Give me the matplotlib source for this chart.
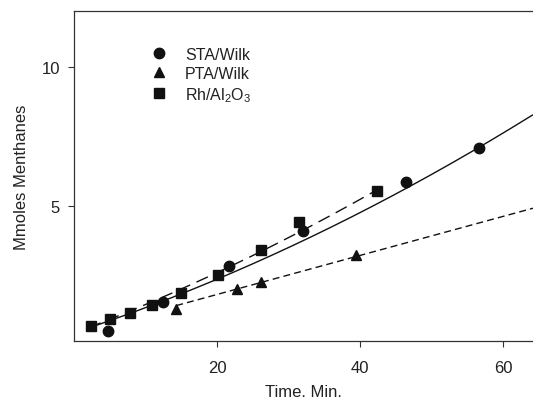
import numpy as np
import matplotlib
matplotlib.use("Agg")
import matplotlib.pyplot as plt
from matplotlib.lines import Line2D

plt.rcParams['font.family'] = ['Liberation Sans', 'DejaVu Sans']
plt.rcParams['mathtext.fontset'] = 'custom'
plt.rcParams['mathtext.rm'] = 'Liberation Sans'

# measured points
sta_t = [4.8, 12.5, 21.7, 32.0, 46.4, 56.7]
sta_y = [0.49, 1.52, 2.82, 4.10, 5.86, 7.06]
pta_t = [14.3, 22.8, 26.2, 39.4]
pta_y = [1.28, 2.00, 2.27, 3.23]
rh_t = [2.4, 5.1, 7.8, 10.9, 15.0, 20.2, 26.1, 31.5, 42.4]
rh_y = [0.66, 0.92, 1.14, 1.42, 1.87, 2.52, 3.41, 4.40, 5.54]

# fitted curves
sta_fit_t = [2.5, 10.0, 16.5, 26.8, 36.0, 46.5, 56.7, 64.2]
sta_fit_y = [0.65, 1.30, 1.98, 3.14, 4.23, 5.66, 7.01, 8.32]
rh_fit_t = [2.1, 16.3, 26.0, 35.9, 42.4]
rh_fit_y = [0.62, 2.15, 3.30, 4.70, 5.54]
pta_fit_t = [14.3, 37.2, 64.2]
pta_fit_y = [1.42, 2.98, 4.92]

ink = '#111111'

fig = plt.figure(figsize=(5.33, 4.06), dpi=100)
ax = fig.add_axes([74 / 533, 64 / 406, 1 - 74 / 533, 330 / 406])


def smooth(t, y, deg, t0, t1):
    c = np.polyfit(t, y, deg)
    tt = np.linspace(t0, t1, 200)
    return tt, np.polyval(c, tt)


tt, yy = smooth(sta_fit_t, sta_fit_y, 2, sta_fit_t[0], sta_fit_t[-1])
ax.plot(tt, yy, color=ink, lw=1.0, solid_capstyle='butt')
tt, yy = smooth(rh_fit_t, rh_fit_y, 2, rh_fit_t[0], rh_fit_t[-1])
ax.plot(tt, yy, color=ink, lw=1.0, dashes=(9, 5))
tt, yy = smooth(pta_fit_t, pta_fit_y, 1, pta_fit_t[0], pta_fit_t[-1])
ax.plot(tt, yy, color=ink, lw=1.0, dashes=(5, 3))

ax.plot(sta_t, sta_y, 'o', color=ink, ms=7.5, ls='none')
ax.plot(pta_t, pta_y, '^', color=ink, ms=7.5, ls='none')
ax.plot(rh_t, rh_y, 's', color=ink, ms=7, ls='none')

ax.set_xlim(0, 64.2)
ax.set_ylim(0.13, 12.0)
ax.set_xticks([20, 40, 60])
ax.set_yticks([5, 10])
ax.tick_params(direction='out', length=4, width=0.8, colors='#333333',
               labelsize=12, labelcolor='#222222', pad=6)
ax.tick_params(axis='x', pad=10)
for s in ['left', 'bottom', 'top']:
    ax.spines[s].set_color('#333333')
    ax.spines[s].set_linewidth(0.9)
ax.spines['right'].set_visible(False)

ax.set_xlabel('Time. Min.', fontsize=12, color='#222222', labelpad=6)
ax.set_ylabel('Mmoles Menthanes', fontsize=12, color='#222222', labelpad=9)

handles = [
    Line2D([], [], marker='o', color=ink, ls='none', ms=7.5),
    Line2D([], [], marker='^', color=ink, ls='none', ms=7.5),
    Line2D([], [], marker='s', color=ink, ls='none', ms=7),
]
labels = ['STA/Wilk', 'PTA/Wilk', r'Rh/Al$_2$O$_3$']
ax.legend(handles, labels, loc='upper left', bbox_to_anchor=(0.12, 0.935),
          frameon=False, fontsize=11.5, handletextpad=0.6, labelspacing=0.25,
          labelcolor='#222222')

fig.savefig('out.png', dpi=100)
